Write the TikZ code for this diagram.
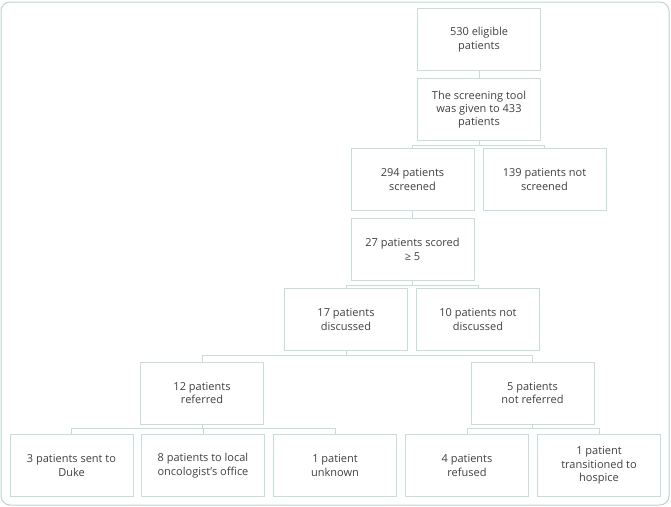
\documentclass[tikz,border=0pt]{standalone}
\usepackage{fontspec}
\setmainfont{Open Sans}
\usepackage{xcolor}
\usepackage{tikz}
\usetikzlibrary{positioning}

\definecolor{boxline}{HTML}{C9DDD7}
\definecolor{frameline}{HTML}{BCD5CE}
\definecolor{boxtext}{HTML}{404040}

\tikzset{
    box/.style={draw=boxline, line width=1pt, minimum width=123pt, minimum height=62pt,
        inner sep=2pt, align=center, text=boxtext, font=\fontsize{11}{13.3}\selectfont},
    link/.style={draw=boxline, line width=1pt}
}

\begin{document}
\begin{tikzpicture}[x=1pt,y=-1pt]
        \useasboundingbox (0,0) rectangle (671,506);
        % outer frame
        \draw[frameline, line width=1pt, rounded corners=9pt] (1,2) rectangle (669,505);

        % top of the tree
        \node[box] (elig) at (479,39.5) {530 eligible\\patients};
        \node[box] (tool) at (479,109.5) {The screening tool\\was given to 433\\patients};
        \node[box] (scr) at (412.5,179.5) {294 patients\\screened};
        \node[box] (notscr) at (544.5,179.5) {139 patients not\\screened};
        \node[box] (score) at (412.5,249.5) {27 patients scored\\≥ 5};
        \node[box] (disc) at (346,319.5) {17 patients\\discussed};
        \node[box] (notdisc) at (478,319.5) {10 patients not\\discussed};

        % referral level
        \node[box] (ref) at (202,393) {12 patients\\referred};
        \node[box] (notref) at (532.5,393) {5 patients\\not referred};

        % outcomes
        \foreach \x/\n/\t in {71.5/duke/3 patients sent to\\Duke,
                203/local/8 patients to local\\oncologist's office,
                335/unk/1 patient\\unknown,
                467/refused/4 patients\\refused,
                599/hospice/1 patient\\transitioned to\\hospice} {
                \node[box] (\n) at (\x,465.5) {\t};
            }

        % connectors
        \draw[link] (elig) -- (tool);
        \foreach \a/\b in {tool/scr, tool/notscr, score/disc, score/notdisc,
                disc/ref, disc/notref, ref/duke, ref/local, ref/unk,
                notref/refused, notref/hospice} {
                \draw[link] (\a.south) -- ++(0,4) -| (\b.north);
            }
        \draw[link] (scr) -- (score);
    \end{tikzpicture}
\end{document}
